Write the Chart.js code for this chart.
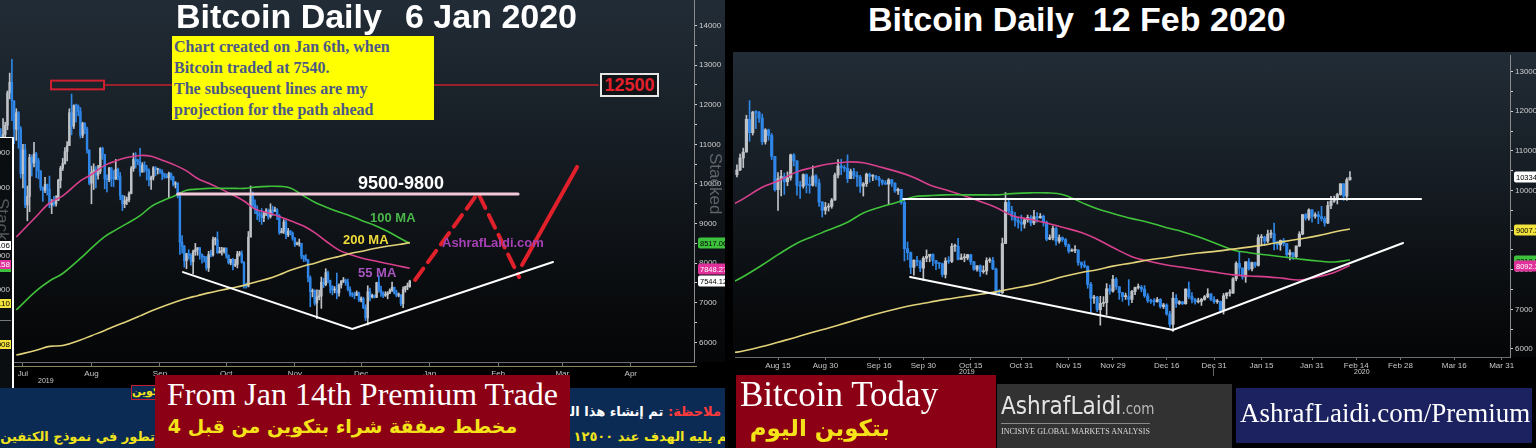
<!DOCTYPE html>
<html>
<head>
<meta charset="utf-8">
<title>Bitcoin Daily</title>
<script src="https://cdn.jsdelivr.net/npm/chart.js@4.4.1/dist/chart.umd.min.js"></script>
<style>
  html, body { margin: 0; padding: 0; background: #000; }
  #stage { position: relative; width: 1536px; height: 448px; overflow: hidden; background: #000;
           font-family: "Liberation Sans", Arial, sans-serif; }
  #stage div, #stage canvas { position: absolute; }
  .t { white-space: pre; line-height: 1; }
  .ar { font-family: "DejaVu Sans", sans-serif; font-weight: bold; white-space: pre; line-height: 1; }
  .serif { font-family: "Liberation Serif", "Times New Roman", serif; }
  .ov span { position: absolute; right: 1px; font-size: 8px; line-height: 9px; padding: 0 1px; }
</style>
</head>
<body>
<div id="stage">
  <!-- panel backgrounds -->
  <div style="left:0;top:0;width:725px;height:362px;background:linear-gradient(180deg,#222c36 0%,#161d24 40%,#080a0c 85%,#050607 100%)"></div>
  <div style="left:733px;top:52px;width:803px;height:305px;background:linear-gradient(180deg,#222c36 0%,#161d24 40%,#080a0c 85%,#050607 100%)"></div>
  <div style="left:0;top:362px;width:697px;height:5px;border-bottom:1px solid #8a845c;box-sizing:border-box"></div>

  <canvas id="leftChart" width="725" height="388" style="left:0;top:0"></canvas>
  <canvas id="rightChart" width="803" height="326" style="left:733px;top:52px"></canvas>

  <!-- left chart texts -->
  <div class="t" style="left:176px;top:-1px;font-size:34px;font-weight:bold;color:#fff">Bitcoin Daily</div>
  <div class="t" style="left:405px;top:-1px;font-size:34px;font-weight:bold;color:#fff">6 Jan 2020</div>
  <div class="serif" style="left:172px;top:36px;width:262px;height:84px;background:#ffff00;box-sizing:border-box;padding-left:2px;font-size:16px;font-weight:bold;line-height:21px;color:#4b5888;white-space:pre">Chart created on Jan 6th, when
Bitcoin traded at 7540.
The subsequent lines are my
projection for the path ahead</div>
  <div class="t" style="left:600px;top:73px;width:59px;height:24px;border:2px solid #e6e6e6;box-sizing:border-box;background:#101316;color:#e3202c;font-size:18px;font-weight:bold;text-align:center;line-height:20px">12500</div>
  <div class="t" style="left:358px;top:174px;font-size:18px;font-weight:bold;color:#fff">9500-9800</div>
  <div class="t" style="left:370px;top:211px;font-size:13px;font-weight:bold;color:#49b649">100 MA</div>
  <div class="t" style="left:343px;top:233px;font-size:13px;font-weight:bold;color:#f0dc3c">200 MA</div>
  <div class="t" style="left:358px;top:266px;font-size:13px;font-weight:bold;color:#a855c0">55 MA</div>
  <div class="t" style="left:442px;top:236px;font-size:13px;font-weight:bold;color:#a640b4">AshrafLaidi.com</div>
  <div class="t" style="left:707px;top:153px;writing-mode:vertical-rl;font-size:17px;color:#5f646a">Stacked</div>
  <div class="t" style="left:38px;top:377px;font-size:7px;color:#cfcfcf">2019</div>

  <!-- left-edge overlay of another panel -->
  <div class="ov" style="left:0;top:137px;width:14px;height:251px;background:#0b0e11;border-top:1.5px solid #fff;border-right:2px solid #fff;box-sizing:border-box;overflow:hidden">
    <span style="top:10px;color:#ccc">11000</span>
    <span style="top:45px;color:#ccc">10000</span>
    <span style="top:60px;color:#55595e;font-size:17px;line-height:17px;writing-mode:vertical-rl;right:0">Stack</span>
    <span style="top:103px;background:#fff;color:#000">8392.06</span>
    <span style="top:113px;color:#ccc">8000</span>
    <span style="top:122px;background:#e0309a;color:#fff">7879.58</span>
    <span style="top:131px;height:3px;width:14px;background:#3ec23e"></span>
    <span style="top:147px;color:#ccc">7000</span>
    <span style="top:161px;background:#f2e23c;color:#000">7446.10</span>
    <span style="top:182px;height:1px;width:14px;background:#777"></span>
    <span style="top:202px;background:#f2e23c;color:#000">5961008</span>
  </div>

  <!-- left bottom band -->
  <div style="left:0;top:388px;width:725px;height:60px;background:#0b2b55;overflow:hidden">
    <div class="ar" dir="rtl" style="right:4px;top:17px;font-size:13px;color:#fff"><span style="color:#ff3b3b">ملاحظة:</span> تم إنشاء هذا الرسم البياني يوم ٦ يناير</div>
    <div class="ar" dir="rtl" style="right:-7px;top:42px;font-size:13px;color:#f2e41c">ثم يليه الهدف عند ١٢٥٠٠ بعد أن</div>
    <div class="ar" dir="rtl" style="right:570px;top:42px;font-size:13px;color:#f2e41c">تطور في نموذج الكتفين والرأس المقلوب</div>
  </div>
  <div class="ar" dir="rtl" style="left:131px;top:385px;width:70px;height:15px;border:1.5px solid #c02030;box-sizing:border-box;background:#0b2b55;color:#f2e41c;font-size:11px;text-align:left;line-height:12px">بتكوين</div>
  <div style="left:155px;top:375px;width:415px;height:73px;background:#8c0015"></div>
  <div class="t serif" style="left:155px;top:378px;width:415px;text-align:center;font-size:32px;color:#fff">From Jan 14th Premium Trade</div>
  <div class="ar" dir="rtl" style="left:155px;top:417px;width:375px;text-align:center;font-size:19px;color:#f5e31a">مخطط صفقة شراء بتكوين من قبل 4</div>

  <!-- right panel texts -->
  <div class="t" style="left:868px;top:2px;font-size:34px;font-weight:bold;color:#fff">Bitcoin Daily  12 Feb 2020</div>
  <div class="t" style="left:959px;top:368px;font-size:7px;color:#cfcfcf">2019</div>
  <div class="t" style="left:1354px;top:368px;font-size:7px;color:#cfcfcf">2020</div>
  <div style="left:1213px;top:366px;width:1px;height:10px;background:#666"></div>

  <div style="left:736px;top:375px;width:260px;height:73px;background:#8c0015"></div>
  <div class="t serif" style="left:740px;top:377px;font-size:35px;color:#fff">Bitcoin Today</div>
  <div class="ar" dir="rtl" style="left:760px;top:417px;width:130px;text-align:center;font-size:23px;color:#f5e31a">بتكوين اليوم</div>

  <div style="left:997px;top:384px;width:235px;height:64px;background:#323232"></div>
  <div class="t" style="left:1001px;top:394px;font-family:'DejaVu Sans Condensed','Liberation Sans',sans-serif;font-size:24px;color:#e4e4e4">AshrafLaidi<span style="font-size:15px;color:#b8b8b8">.com</span></div>
  <div style="left:1001px;top:423px;width:149px;height:1px;background:#8a8a8a"></div>
  <div class="t serif" style="left:1001px;top:428px;font-size:8px;color:#dcdcdc">INCISIVE GLOBAL MARKETS ANALYSIS</div>

  <div style="left:1236px;top:388px;width:296px;height:55px;background:#1c2160"></div>
  <div class="t serif" style="left:1240px;top:400px;font-size:27px;color:#fff">AshrafLaidi.com/Premium</div>
</div>

<script>
// day index 0 = 1 Jul 2019, daily BTC candles through 12 Feb 2020 (day 226)
const june30Close = 10820;
const closes = [
  10590,10830,11960,11150,10980,11250,11480,12300,12570,12100,11380,11800,11390,10260,10860,9470,9690,10670,10530,10760,10590,10330,9910,9840,9990,9870,9480,9530,9500,9590,10090,
  10400,10520,10820,10970,11800,11460,11980,11970,11830,11230,11530,11390,10860,10020,10300,10360,10220,10320,10900,10750,10130,10110,10400,10140,10130,10370,10190,9710,9500,9580,9600,
  9760,10390,10620,10580,10560,10300,10480,10380,10340,10110,10170,10410,10360,10360,10310,10260,10190,10160,10270,10180,9990,10030,9700,8530,8430,8060,8240,8200,8040,8290,
  8340,8390,8230,8160,8150,7880,8220,8210,8590,8590,8260,8300,8300,8380,8200,8010,8100,7950,7970,8230,8230,8020,7470,7420,8660,9700,9480,9350,9250,9200,9150,
  9260,9320,9180,9340,9310,9350,9200,8770,8810,9040,8720,8810,8760,8630,8470,8490,8500,8180,8120,8080,7630,7280,7310,6990,7150,7170,7520,7460,7760,7570,
  7420,7320,7320,7250,7450,7550,7560,7510,7340,7220,7200,7190,7250,7070,7110,6880,6620,7280,7150,7190,7140,7510,7320,7250,7190,7200,7250,7320,7390,7250,7190,
  7200,6980,7340,7410,7410,7770,8160,8040,7820,8200,8020,8180,8110,8810,8820,8720,8900,8910,8700,8630,8740,8660,8380,8430,8330,8600,8900,9390,9300,9510,9350,
  9390,9340,9290,9180,9620,9730,9800,9900,10170,9860,10270,10334
];
const highs = [
  11200,10900,11960,12000,11400,11650,11560,12350,12800,13150,12100,11900,11830,11450,11000,11000,9950,10750,10730,11050,10800,10650,10340,9930,10170,10000,10200,9610,9690,9710,10120,
  10450,10650,10920,11070,11900,12270,12000,12020,12000,11930,11560,11550,11440,10860,10450,10510,10440,10470,10920,10930,10750,10230,10420,10420,10340,10620,10400,10290,9720,9700,9670,
  9800,10440,10780,10790,10630,10900,10540,10560,10470,10380,10200,10440,10440,10400,10380,10360,10270,10250,10300,10280,10200,10060,10020,9790,8700,8450,8250,8340,8240,8330,
  8500,8390,8400,8230,8180,8170,8300,8330,8660,8650,8790,8400,8400,8390,8390,8210,8100,8120,8100,8300,8300,8310,8040,7500,8800,9950,9800,9600,9450,9300,9380,
  9300,9380,9370,9500,9440,9420,9380,9230,8880,9100,9080,8880,8830,8790,8650,8530,8610,8500,8200,8220,8100,7680,7350,7330,7330,7320,7650,7620,7860,7800,
  7570,7430,7410,7750,7480,7560,7640,7600,7600,7400,7260,7270,7300,7270,7150,7140,6950,7430,7370,7220,7200,7520,7690,7420,7280,7280,7280,7350,7520,7400,7320,
  7250,7210,7400,7420,7500,7800,8200,8450,8050,8200,8280,8190,8190,8880,8890,8850,9000,9000,9180,8720,8750,8790,8660,8500,8430,8600,8960,9400,9420,9540,9520,
  9440,9470,9600,9340,9720,9850,9860,9930,10170,10180,10320,10480
];
const lows = [
  10000,9750,10830,11070,10850,10980,11130,11370,12150,11600,11020,11100,10900,10150,9900,9400,9070,9300,10200,10430,10160,10130,9840,9560,9780,9720,9400,9250,9440,9440,9580,
  9900,10340,10500,10580,10970,11240,11400,11560,11720,11160,11170,11270,10780,9980,9500,9860,9900,10120,10260,10620,9880,9800,10060,9940,9930,10110,10100,9600,9330,9400,9480,
  9550,9750,10320,10400,10480,10200,10300,10300,10100,9950,9860,10100,10210,10250,10270,10110,10140,10150,9650,10100,9950,9900,9650,8220,8250,7900,7860,8100,7950,7730,
  8200,8200,8100,8000,8030,7820,7790,8160,8180,8460,8250,8260,8200,8250,8130,7980,7960,7830,7910,7880,8180,8000,7370,7370,7400,8660,9400,9250,9100,9050,8980,
  9050,9200,9110,9140,9200,9300,9100,8730,8760,8750,8620,8670,8710,8580,8420,8460,8430,8110,8040,8050,7530,6900,7150,6940,6600,7070,6860,7380,7430,7500,
  7250,7200,7250,7100,7170,7370,7510,7440,7300,7170,7150,7100,7180,7030,7020,6850,6550,6440,7050,7120,7120,7130,7270,7160,7130,7160,7100,7230,7290,7220,7150,
  7150,6930,6880,7270,7330,7400,7720,7870,7760,7680,7990,7970,8060,8090,8600,8610,8680,8800,8500,8520,8490,8600,8300,8250,8260,8300,8580,8880,9250,9250,9200,
  9300,9160,9230,9100,9160,9540,9700,9660,9880,9750,9750,10260
];
// the 6 Jan chart was taken intraday, while price was 7540
const jan6Intraday = { day: 189, high: 7570, low: 7390, close: 7544 };

// moving averages
const maDays = [11,20,26,32,40,45,51,56,61,67,72,77,83,88,93,98,103,109,114,119,125,130,135,141,146,151,157,162,168,173,178,184,189,194,200,205,210,216,221,226];
const ma55  = [8660,9180,9520,9700,10080,10240,10470,10580,10670,10720,10700,10600,10470,10330,10140,10020,9890,9720,9570,9370,9270,9180,9070,8940,8770,8560,8330,8220,8120,8060,8000,7930,7870,7840,7820,7780,7740,7820,7930,8110];
const ma100 = [6820,7300,7550,7740,8120,8380,8670,8840,9000,9200,9430,9570,9710,9840,9870,9890,9890,9890,9890,9920,9940,9940,9900,9700,9540,9420,9290,9200,9060,8960,8830,8650,8500,8430,8370,8320,8270,8220,8195,8245];
const ma200 = [5680,5800,5900,5920,6060,6170,6300,6420,6530,6670,6790,6900,7020,7110,7180,7250,7310,7380,7440,7520,7610,7710,7820,7930,8000,8090,8170,8245,8310,8370,8420,8470,8520,8570,8640,8710,8775,8860,8950,9030];

// drawn lines on the 6 Jan chart
const zoneDays = [84, 238], zoneLevel = 9750;
const wedgeLeftDays = [86.4, 163, 253.8], wedgeLeftPrices = [7775, 6340, 8030];
const pathDashDays = [191.4, 219.9, 238.5], pathDashPrices = [7576, 9773, 7650];
const pathUpDays = [239.8, 264.7], pathUpPrices = [7955, 10430];
const targetDays = [50.7, 274.2], targetLevel = 12500;
const targetBox = { d0: 26.7, d1: 50.7, p0: 12390, p1: 12610 };
// drawn lines on the 12 Feb chart
const resistDays = [84.6, 248.5], resistLevel = 9785;
const wedgeRightDays = [86.8, 170, 242.8], wedgeRightPrices = [7816, 6478, 8675];

// axes
const leftMonthDays = [14, 45, 76, 106, 137, 167, 198, 229, 258, 289];
const leftMonthLabels = ['Jul','Aug','Sep','Oct','Nov','Dec','Jan','Feb','Mar','Apr'];
const rightDateDays = [45,60,77,91,106,122,137,151,168,183,198,214,228,242,259,274];
const rightDateLabels = ['Aug 15','Aug 30','Sep 16','Sep 30','Oct 15','Oct 31','Nov 15','Nov 29','Dec 16','Dec 31','Jan 15','Jan 31','Feb 14','Feb 28','Mar 16','Mar 31'];
const leftPriceTicks = [6000,6500,7000,7500,8000,8500,9000,9500,10000,10500,11000,11500,12000,12500,13000,13500,14000];
const rightPriceTicks = [6000,6500,7000,7500,8000,8500,9000,9500,10000,10500,11000,11500,12000,12500,13000];

// last-value tags
const leftTagValues = [8517.06, 7848.27, 7544.12];
const leftTagColors = ['#3ec23e', '#e0309a', '#ffffff'];
const rightTagValues = [10334.5, 9007.31, 8218.52, 8092.33];
const rightTagColors = ['#ffffff', '#f2e23c', '#3ec23e', '#e0309a'];

const UP = '#bfc3c8', DOWN = '#2f86e6';

function pts(days, vals) { return days.map((d, i) => ({ x: d, y: vals[i] })); }

function candles(first, last, intraday) {
  const bodies = [], wicks = [], colors = [];
  for (let d = first; d <= last; d++) {
    const open = d === 0 ? june30Close : closes[d - 1];
    bodies.push({ x: d, y: [open, closes[d]] });
    wicks.push({ x: d, y: [lows[d], highs[d]] });
    colors.push(closes[d] >= open ? UP : DOWN);
  }
  if (intraday) {
    const open = closes[intraday.day - 1];
    bodies.push({ x: intraday.day, y: [open, intraday.close] });
    wicks.push({ x: intraday.day, y: [intraday.low, intraday.high] });
    colors.push(intraday.close >= open ? UP : DOWN);
  }
  return { bodies, wicks, colors };
}

function maSets(maxDay) {
  const keep = maDays.map((d, i) => i).filter(i => maDays[i] <= maxDay);
  const line = (vals, color) => ({
    type: 'line', data: keep.map(i => ({ x: maDays[i], y: vals[i] })),
    borderColor: color, borderWidth: 1.6, pointRadius: 0, tension: 0.4, order: 3
  });
  return [line(ma200, '#e2d27a'), line(ma100, '#3fc13a'), line(ma55, '#d8408e')];
}

function drawLine(data, color, width, dash) {
  return { type: 'line', data, borderColor: color, borderWidth: width, borderDash: dash || [],
           pointRadius: 0, tension: 0, order: 1, borderCapStyle: 'round' };
}

const priceTags = {
  id: 'priceTags',
  afterDatasetsDraw(chart, args, opts) {
    const { ctx } = chart, x = chart.scales.x, y = chart.scales.y;
    ctx.save();
    (opts.rects || []).forEach(r => {
      const x0 = x.getPixelForValue(r.d0), x1 = x.getPixelForValue(r.d1);
      const y0 = y.getPixelForValue(r.p1), y1 = y.getPixelForValue(r.p0);
      ctx.strokeStyle = r.color; ctx.lineWidth = 2;
      ctx.strokeRect(x0, y0, x1 - x0, y1 - y0);
    });
    ctx.restore();
  },
  afterDraw(chart, args, opts) {
    const { ctx } = chart, y = chart.scales.y;
    ctx.save();
    ctx.font = '7.5px "Liberation Sans", Arial, sans-serif';
    ctx.textBaseline = 'middle';
    (opts.values || []).forEach((v, i) => {
      const py = Math.round(y.getPixelForValue(v));
      const left = y.left + opts.offset;
      ctx.fillStyle = opts.colors[i];
      ctx.beginPath();
      ctx.roundRect(left, py - 5.5, 40, 11, 2);
      ctx.fill();
      ctx.fillStyle = opts.colors[i] === '#e0309a' ? '#fff' : '#000';
      ctx.fillText(v.toFixed(2), left + 2, py + 0.5);
    });
    ctx.restore();
  }
};

function baseOptions(o) {
  return {
    responsive: false, animation: false, devicePixelRatio: 1,
    layout: { padding: o.padding, autoPadding: false },
    plugins: { legend: { display: false }, tooltip: { enabled: false },
               priceTags: { values: o.tagValues, colors: o.tagColors, offset: o.tagOffset, rects: o.rects || [] } },
    scales: {
      x: {
        type: 'linear', min: o.xMin, max: o.xMax, offset: false,
        grid: { display: true, offset: false, drawOnChartArea: false, drawTicks: true, tickLength: o.xTickLen, color: '#777' },
        border: { color: '#6c6c6c' },
        ticks: { color: '#c8c8c8', font: { size: 8 }, autoSkip: false, maxRotation: 0, padding: o.xPad,
                 callback: (v, i) => o.xLabels[i] },
        afterBuildTicks: s => { s.ticks = o.xTicks.map(v => ({ value: v })); },
        afterFit: s => { s.height = o.xHeight; s.paddingLeft = 0; s.paddingRight = 0; }
      },
      y: {
        type: 'linear', position: 'right', min: o.yMin, max: o.yMax,
        grid: { display: true, drawOnChartArea: false, drawTicks: true, tickLength: 3, color: '#d0d0d0' },
        border: { color: '#8a8a8a' },
        ticks: { color: '#cfcfcf', font: { size: 8 }, padding: 2, autoSkip: false,
                 callback: v => (v % 1000 === 0 ? String(v) : '') },
        afterBuildTicks: s => { s.ticks = o.yTicks.map(v => ({ value: v })); },
        afterFit: s => { s.width = o.yWidth; s.paddingTop = 0; s.paddingBottom = 0; }
      }
    }
  };
}

function candleSets(c, thick) {
  return [
    { type: 'bar', data: c.bodies, backgroundColor: c.colors, borderWidth: 0, barThickness: thick,
      grouped: false, minBarLength: 1, order: 4, clip: 0 },
    { type: 'bar', data: c.wicks, backgroundColor: c.colors, borderWidth: 0, barThickness: 1,
      grouped: false, order: 5, clip: 0 }
  ];
}

// ---- 6 Jan 2020 chart ----
const leftC = candles(0, 188, jan6Intraday);
new Chart(document.getElementById('leftChart'), {
  type: 'bar',
  data: {
    datasets: [
      ...candleSets(leftC, 1.8),
      ...maSets(189),
      drawLine(pts(targetDays, [targetLevel, targetLevel]), '#c4202c', 1.5),
      drawLine(pts(zoneDays, [zoneLevel, zoneLevel]), '#f3c9d8', 3),
      drawLine(pts(wedgeLeftDays, wedgeLeftPrices), '#ffffff', 2),
      drawLine(pts(pathDashDays, pathDashPrices), '#e0202a', 4, [14, 8]),
      drawLine(pts(pathUpDays, pathUpPrices), '#e0202a', 4)
    ]
  },
  options: baseOptions({
    padding: { left: 0, top: 0, right: 0, bottom: 0 },
    xMin: 3.62, xMax: 317.6, yMin: 5505, yMax: 14646,
    xTicks: leftMonthDays, xLabels: leftMonthLabels, xTickLen: 5, xPad: 2, xHeight: 26,
    yTicks: leftPriceTicks, yWidth: 31,
    tagValues: leftTagValues, tagColors: leftTagColors, tagOffset: 4,
    rects: [{ ...targetBox, color: '#d02030' }]
  }),
  plugins: [priceTags]
});

// ---- 12 Feb 2020 chart ----
const rightC = candles(32, 226, null);
new Chart(document.getElementById('rightChart'), {
  type: 'bar',
  data: {
    datasets: [
      ...candleSets(rightC, 2.5),
      ...maSets(226),
      drawLine(pts(resistDays, [resistLevel, resistLevel]), '#ffffff', 2),
      drawLine(pts(wedgeRightDays, wedgeRightPrices), '#ffffff', 2)
    ]
  },
  options: baseOptions({
    padding: { left: 2, top: 3, right: 0, bottom: 0 },
    xMin: 31.39, xMax: 276.65, yMin: 5796, yMax: 13421,
    xTicks: rightDateDays, xLabels: rightDateLabels, xTickLen: 3, xPad: 1, xHeight: 21,
    yTicks: rightPriceTicks, yWidth: 26,
    tagValues: rightTagValues, tagColors: rightTagColors, tagOffset: 4
  }),
  plugins: [priceTags]
});
</script>
</body>
</html>
